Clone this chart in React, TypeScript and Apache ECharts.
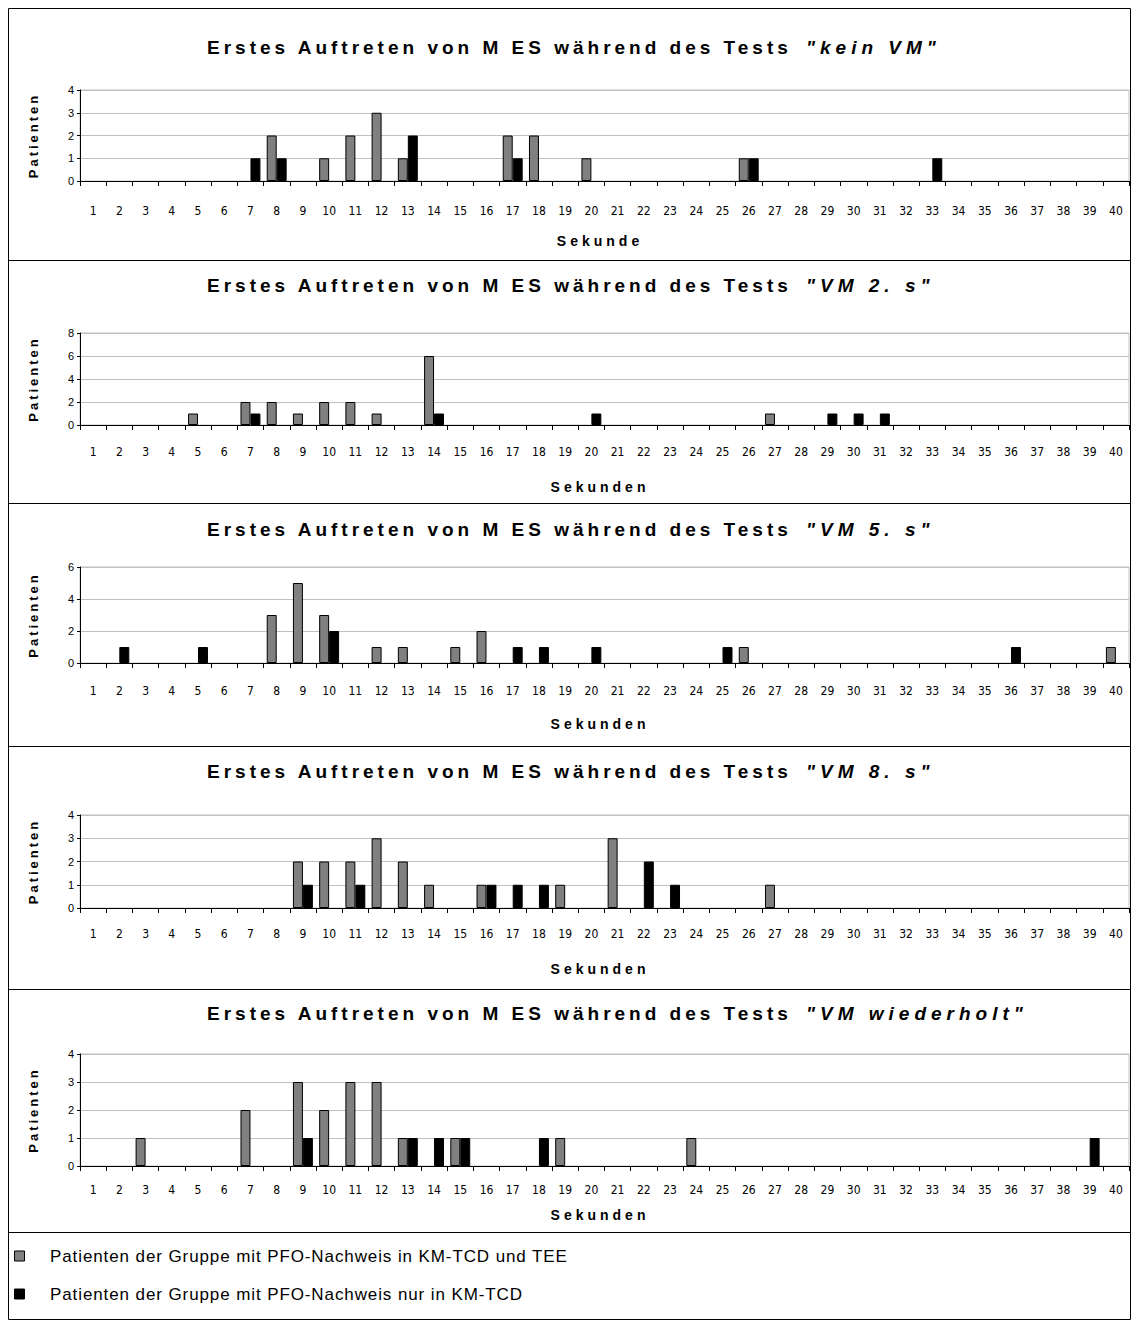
import React, { useEffect, useRef } from "react";
import * as echarts from "echarts";

// ---------- data ----------
const seconds = [
  "1", "2", "3", "4", "5", "6", "7", "8", "9", "10",
  "11", "12", "13", "14", "15", "16", "17", "18", "19", "20",
  "21", "22", "23", "24", "25", "26", "27", "28", "29", "30",
  "31", "32", "33", "34", "35", "36", "37", "38", "39", "40",
];

// Test "kein VM"
const keinVmTee = [0, 0, 0, 0, 0, 0, 0, 2, 0, 1, 2, 3, 1, 0, 0, 0, 2, 2, 0, 1, 0, 0, 0, 0, 0, 1, 0, 0, 0, 0, 0, 0, 0, 0, 0, 0, 0, 0, 0, 0];
const keinVmTcd = [0, 0, 0, 0, 0, 0, 1, 1, 0, 0, 0, 0, 2, 0, 0, 0, 1, 0, 0, 0, 0, 0, 0, 0, 0, 1, 0, 0, 0, 0, 0, 0, 1, 0, 0, 0, 0, 0, 0, 0];
// Test "VM 2. s"
const vm2Tee = [0, 0, 0, 0, 1, 0, 2, 2, 1, 2, 2, 1, 0, 6, 0, 0, 0, 0, 0, 0, 0, 0, 0, 0, 0, 0, 1, 0, 0, 0, 0, 0, 0, 0, 0, 0, 0, 0, 0, 0];
const vm2Tcd = [0, 0, 0, 0, 0, 0, 1, 0, 0, 0, 0, 0, 0, 1, 0, 0, 0, 0, 0, 1, 0, 0, 0, 0, 0, 0, 0, 0, 1, 1, 1, 0, 0, 0, 0, 0, 0, 0, 0, 0];
// Test "VM 5. s"
const vm5Tee = [0, 0, 0, 0, 0, 0, 0, 3, 5, 3, 0, 1, 1, 0, 1, 2, 0, 0, 0, 0, 0, 0, 0, 0, 0, 1, 0, 0, 0, 0, 0, 0, 0, 0, 0, 0, 0, 0, 0, 1];
const vm5Tcd = [0, 1, 0, 0, 1, 0, 0, 0, 0, 2, 0, 0, 0, 0, 0, 0, 1, 1, 0, 1, 0, 0, 0, 0, 1, 0, 0, 0, 0, 0, 0, 0, 0, 0, 0, 1, 0, 0, 0, 0];
// Test "VM 8. s"
const vm8Tee = [0, 0, 0, 0, 0, 0, 0, 0, 2, 2, 2, 3, 2, 1, 0, 1, 0, 0, 1, 0, 3, 0, 0, 0, 0, 0, 1, 0, 0, 0, 0, 0, 0, 0, 0, 0, 0, 0, 0, 0];
const vm8Tcd = [0, 0, 0, 0, 0, 0, 0, 0, 1, 0, 1, 0, 0, 0, 0, 1, 1, 1, 0, 0, 0, 2, 1, 0, 0, 0, 0, 0, 0, 0, 0, 0, 0, 0, 0, 0, 0, 0, 0, 0];
// Test "VM wiederholt"
const vmWdhTee = [0, 0, 1, 0, 0, 0, 2, 0, 3, 2, 3, 3, 1, 0, 1, 0, 0, 0, 1, 0, 0, 0, 0, 1, 0, 0, 0, 0, 0, 0, 0, 0, 0, 0, 0, 0, 0, 0, 0, 0];
const vmWdhTcd = [0, 0, 0, 0, 0, 0, 0, 0, 1, 0, 0, 0, 1, 1, 1, 0, 0, 1, 0, 0, 0, 0, 0, 0, 0, 0, 0, 0, 0, 0, 0, 0, 0, 0, 0, 0, 0, 0, 1, 0];

const titlePrefix = "Erstes Auftreten von M ES während des Tests";
const testNames = ['"kein VM"', '"VM 2. s"', '"VM 5. s"', '"VM 8. s"', '"VM wiederholt"'];
const xAxisNames = ["Sekunde", "Sekunden", "Sekunden", "Sekunden", "Sekunden"];
const yAxisName = "Patienten";
const yMaxes = [4, 8, 6, 4, 4];
const yIntervals = [1, 2, 2, 1, 1];
const teeSeries = [keinVmTee, vm2Tee, vm5Tee, vm8Tee, vmWdhTee];
const tcdSeries = [keinVmTcd, vm2Tcd, vm5Tcd, vm8Tcd, vmWdhTcd];
const groupNames = [
  "Patienten der Gruppe mit PFO-Nachweis in KM-TCD und TEE",
  "Patienten der Gruppe mit PFO-Nachweis nur in KM-TCD",
];

// ---------- layout ----------
const W = 1133;
const H = 1322;
const GRID_LEFT = 80;
const GRID_WIDTH = 1049;
const layout = [
  { top: 90, height: 91, titleY: 47, labelMargin: 24, nameY: 241 },
  { top: 333, height: 92, titleY: 285, labelMargin: 21, nameY: 487 },
  { top: 567, height: 96, titleY: 529, labelMargin: 22, nameY: 724 },
  { top: 815, height: 93, titleY: 771, labelMargin: 20, nameY: 969 },
  { top: 1054, height: 112, titleY: 1013, labelMargin: 18, nameY: 1215 },
];
const separatorYs = [260, 503, 746, 989, 1232];
const GRAY = "#808080";
const SANS = '"Liberation Sans", Arial, sans-serif';
const NARROW = '"Liberation Sans Narrow", "DejaVu Sans Condensed", "Liberation Sans", sans-serif';

function applySpacing(root: HTMLElement) {
  root.querySelectorAll("text").forEach((t) => {
    const s = t.textContent || "";
    let ls = 0;
    if (s.startsWith("Erstes")) ls = 4;
    else if (s.startsWith('"')) ls = 5;
    else if (s === yAxisName) ls = 3;
    else if (s.startsWith("Sekunde")) ls = 4;
    else if (s.startsWith("Patienten der")) ls = 0.9;
    if (ls) t.setAttribute("letter-spacing", String(ls));
  });
}

const nz = (arr: number[]) => arr.map((v) => (v === 0 ? null : v));

export default function App() {
  const ref = useRef<HTMLDivElement>(null);

  useEffect(() => {
    if (!ref.current) return;
    const el = ref.current;
    const chart = echarts.init(el, undefined, { renderer: "svg", width: W, height: H });

    const grids: any[] = [];
    const xAxes: any[] = [];
    const yAxes: any[] = [];
    const series: any[] = [];
    const graphics: any[] = [];

    graphics.push({
      type: "rect",
      shape: { x: 8.5, y: 8.5, width: 1122, height: 1311 },
      style: { fill: "none", stroke: "#000", lineWidth: 1 },
      silent: true,
    });
    separatorYs.forEach((y) => {
      graphics.push({
        type: "line",
        shape: { x1: 8.5, y1: y + 0.5, x2: 1130.5, y2: y + 0.5 },
        style: { stroke: "#000", lineWidth: 1 },
        silent: true,
      });
    });

    layout.forEach((p, i) => {
      grids.push({
        left: GRID_LEFT,
        top: p.top,
        width: GRID_WIDTH,
        height: p.height,
        show: true,
        borderColor: "#c0c0c0",
        borderWidth: 1,
      });
      xAxes.push({
        type: "category",
        gridIndex: i,
        data: seconds,
        axisLine: { show: true, lineStyle: { color: "#000", width: 1 } },
        axisTick: { show: true, length: 5, lineStyle: { color: "#000" } },
        axisLabel: {
          interval: 0,
          margin: p.labelMargin,
          fontSize: 12,
          fontFamily: NARROW,
          color: "#000",
        },
        splitLine: { show: false },
      });
      yAxes.push({
        type: "value",
        gridIndex: i,
        min: 0,
        max: yMaxes[i],
        interval: yIntervals[i],
        axisLine: { show: true, lineStyle: { color: "#000", width: 1 } },
        axisTick: { show: true, length: 3, lineStyle: { color: "#000" } },
        axisLabel: { fontSize: 11, fontFamily: SANS, color: "#000", margin: 6 },
        splitLine: { show: true, lineStyle: { color: "#c0c0c0", width: 1 } },
      });
      series.push({
        type: "bar",
        name: groupNames[0],
        xAxisIndex: i,
        yAxisIndex: i,
        data: nz(teeSeries[i]),
        barGap: "0%",
        barCategoryGap: "24%",
        itemStyle: { color: GRAY, borderColor: "#000", borderWidth: 1 },
        emphasis: { disabled: true },
      });
      series.push({
        type: "bar",
        name: groupNames[1],
        xAxisIndex: i,
        yAxisIndex: i,
        data: nz(tcdSeries[i]),
        barGap: "0%",
        barCategoryGap: "24%",
        itemStyle: { color: "#000", borderColor: "#000", borderWidth: 1 },
        emphasis: { disabled: true },
      });

      // title
      graphics.push({
        type: "text",
        x: 207,
        y: p.titleY,
        silent: true,
        style: {
          text: titlePrefix,
          fontSize: 19,
          fontWeight: "bold",
          fontFamily: SANS,
          fill: "#000",
          align: "left",
          verticalAlign: "middle",
        },
      });
      graphics.push({
        type: "text",
        x: 806,
        y: p.titleY,
        silent: true,
        style: {
          text: testNames[i],
          fontSize: 19,
          fontWeight: "bold",
          fontStyle: "italic",
          fontFamily: SANS,
          fill: "#000",
          align: "left",
          verticalAlign: "middle",
        },
      });
      // y axis name
      graphics.push({
        type: "text",
        x: 33,
        y: p.top + p.height / 2,
        rotation: Math.PI / 2,
        silent: true,
        style: {
          text: yAxisName,
          fontSize: 13,
          fontWeight: "bold",
          fontFamily: SANS,
          fill: "#000",
          align: "center",
          verticalAlign: "middle",
        },
      });
      // x axis name
      graphics.push({
        type: "text",
        x: 600,
        y: p.nameY,
        silent: true,
        style: {
          text: xAxisNames[i],
          fontSize: 14,
          fontWeight: "bold",
          fontFamily: SANS,
          fill: "#000",
          align: "center",
          verticalAlign: "middle",
        },
      });
    });

    // legend
    const legendYs = [1256, 1294];
    const legendColors = [GRAY, "#000"];
    groupNames.forEach((n, k) => {
      graphics.push({
        type: "rect",
        silent: true,
        shape: { x: 14.5, y: legendYs[k] - 5, width: 10, height: 10 },
        style: { fill: legendColors[k], stroke: "#000", lineWidth: 1 },
      });
      graphics.push({
        type: "text",
        x: 50,
        y: legendYs[k],
        silent: true,
        style: {
          text: n,
          fontSize: 17,
          fontFamily: SANS,
          fill: "#000",
          align: "left",
          verticalAlign: "middle",
        },
      });
    });

    chart.on("finished", () => applySpacing(el));
    chart.setOption({
      animation: false,
      backgroundColor: "#fff",
      grid: grids,
      xAxis: xAxes,
      yAxis: yAxes,
      series,
      graphic: graphics,
    });
    applySpacing(el);

    return () => {
      chart.dispose();
    };
  }, []);

  return (
    <div
      ref={ref}
      style={{ position: "absolute", left: 0, top: 0, width: W, height: H }}
    />
  );
}
